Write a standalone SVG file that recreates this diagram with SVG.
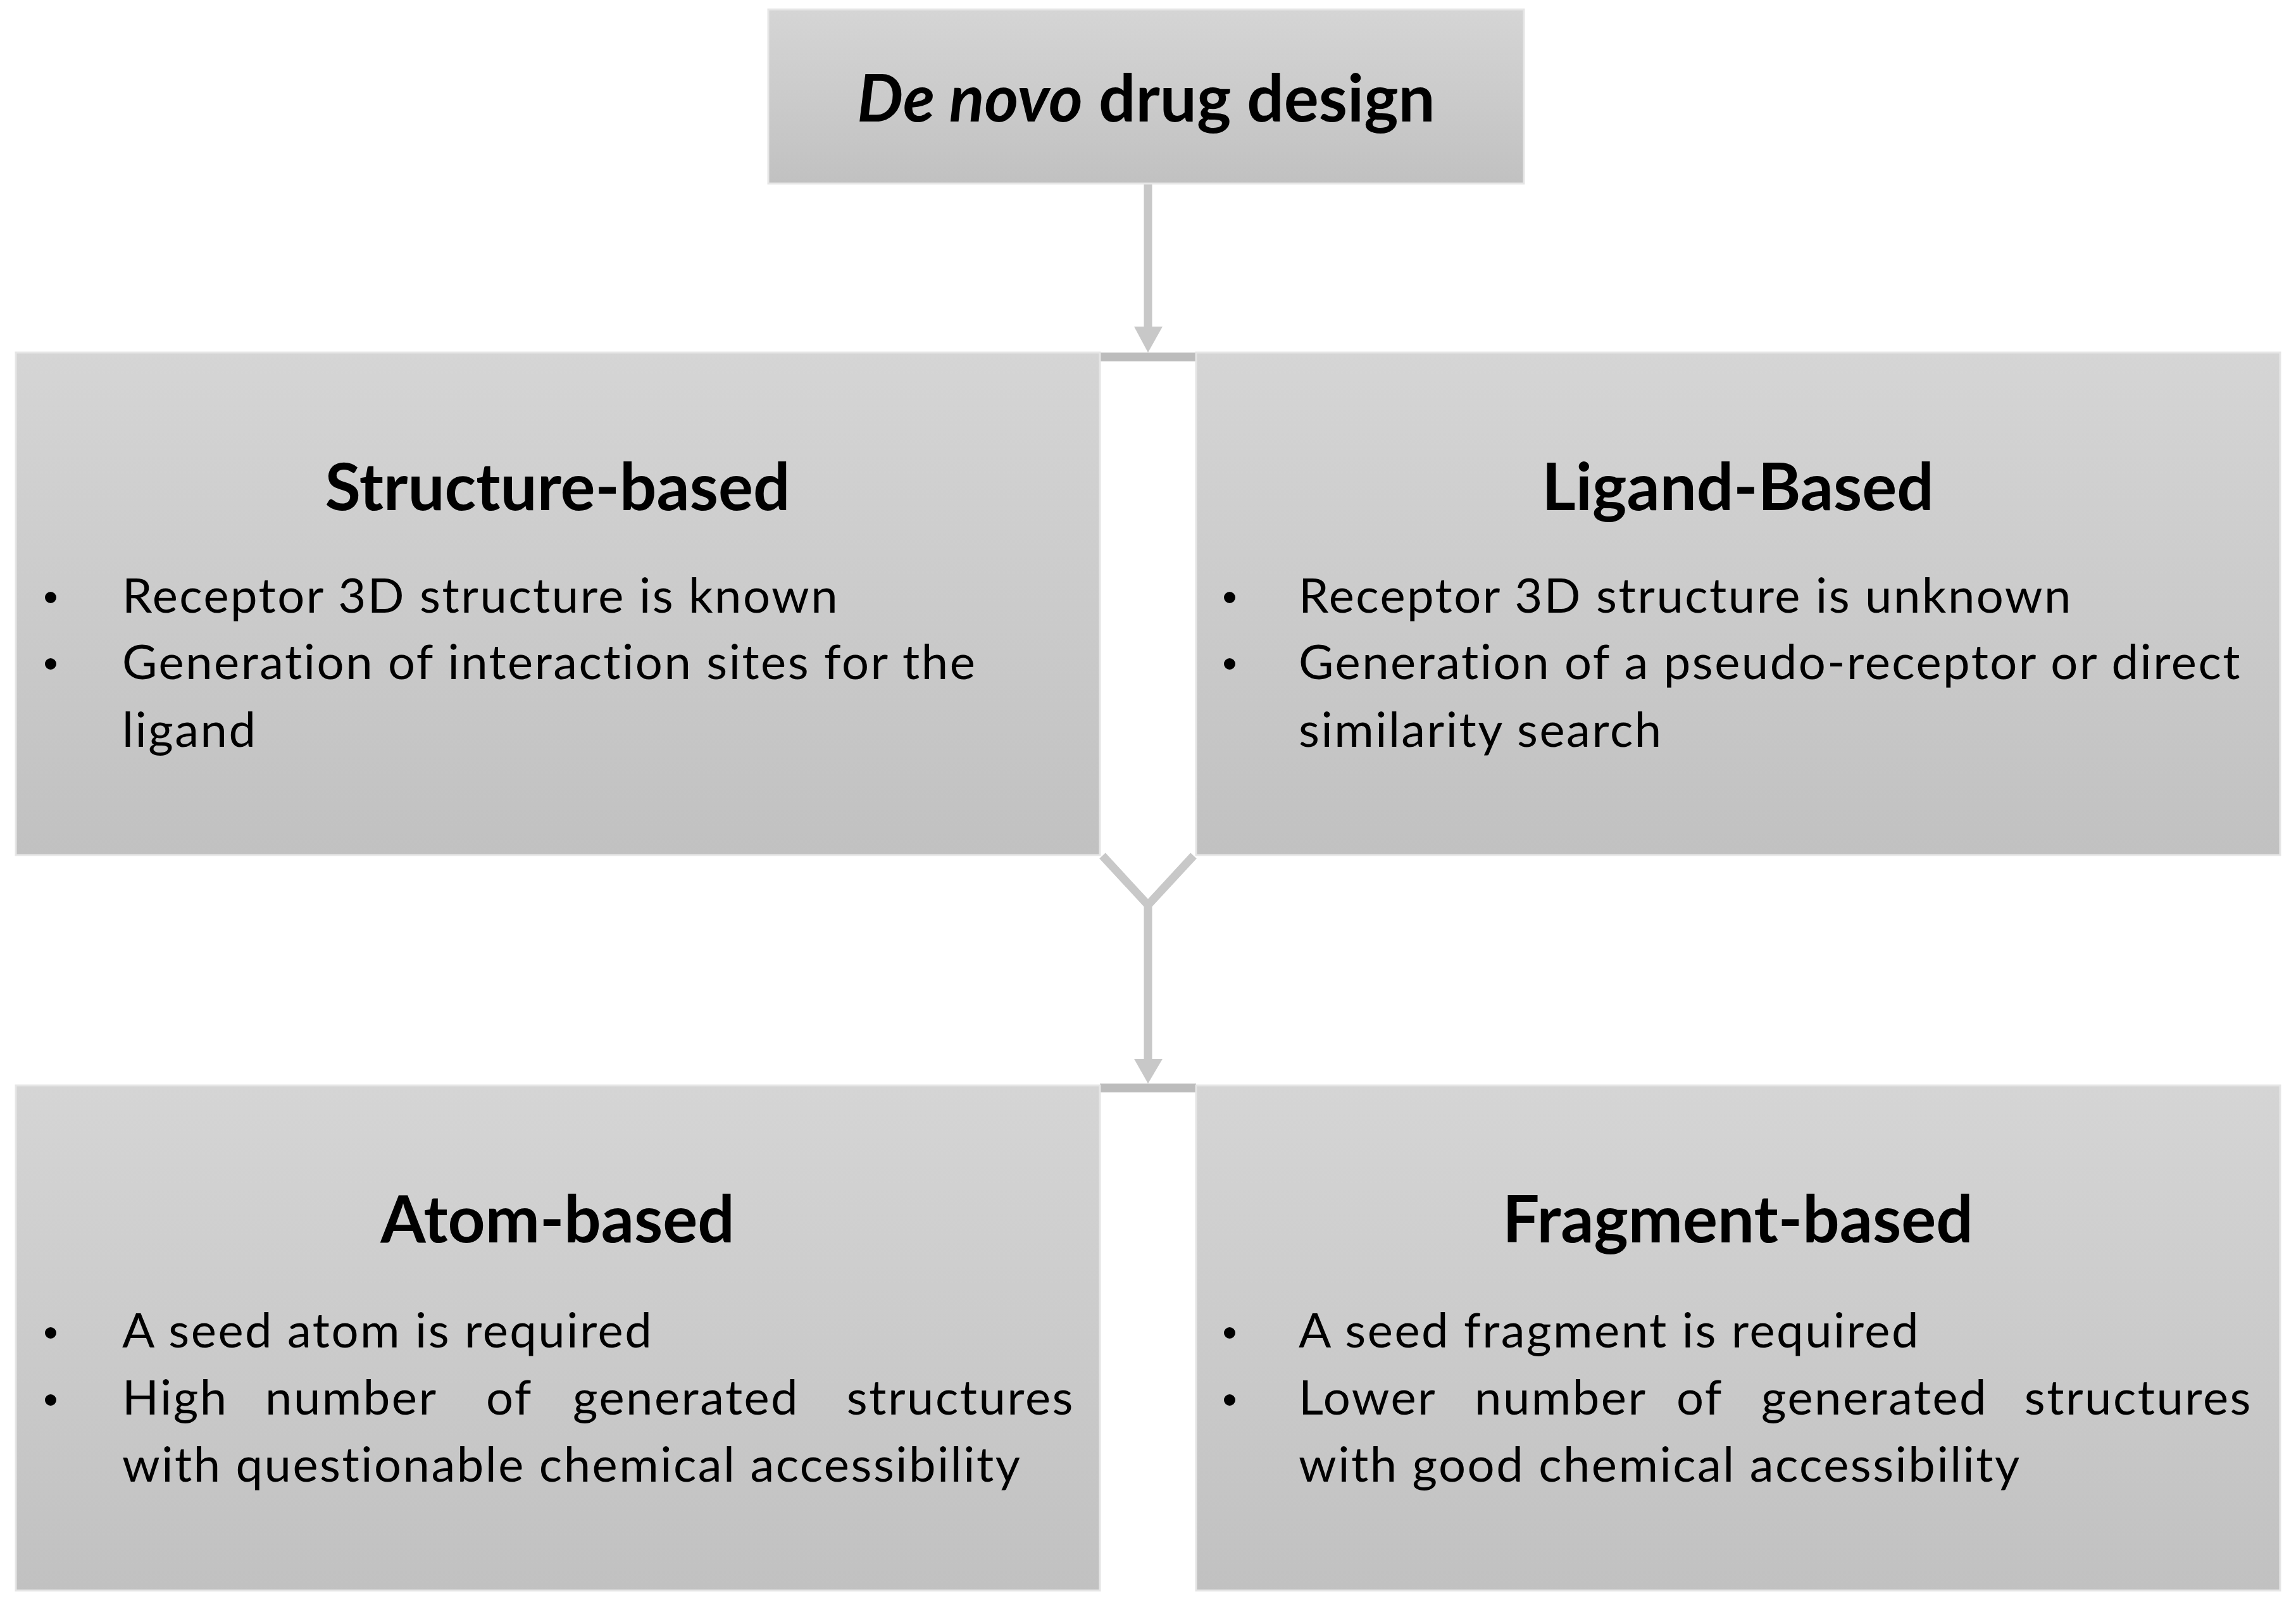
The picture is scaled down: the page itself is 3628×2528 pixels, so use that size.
<svg xmlns="http://www.w3.org/2000/svg" width="3628" height="2528" viewBox="0 0 3628 2528">
<defs>
<linearGradient id="g" x1="0" y1="0" x2="0" y2="1">
<stop offset="0" stop-color="#d5d5d5"/>
<stop offset="1" stop-color="#c1c1c1"/>
</linearGradient>
<style>
.box{fill:url(#g);stroke:#e6e6e6;stroke-width:3}
.title{font-family:Lato,"Liberation Sans",sans-serif;font-weight:bold;font-size:103px;fill:#000;text-anchor:middle}
.body{font-family:Lato,"Liberation Sans",sans-serif;font-size:76px;letter-spacing:2.5px;fill:#000}
.bul{fill:#000}
.con{stroke:#c8c8c8;stroke-width:13;fill:none}
.head{fill:#c8c8c8}
.bar{fill:#bcbcbc}
</style>
</defs>
<rect width="3628" height="2528" fill="#fff"/>
<g id="connectors">
<line class="con" x1="1814" y1="290" x2="1814" y2="520"/>
<polygon class="head" points="1792,516 1837,516 1814,557"/>
<rect class="bar" x="1738" y="557" width="152" height="14"/>
<polyline class="con" points="1742,1352 1814,1430 1886,1352"/>
<line class="con" x1="1814" y1="1430" x2="1814" y2="1676"/>
<polygon class="head" points="1792,1673 1837,1673 1814,1712"/>
<rect class="bar" x="1738" y="1712" width="152" height="14"/>
</g>
<g id="node-top">
<rect class="box" x="1214" y="15" width="1194" height="275"/>
<text class="title" x="1811" y="192" font-size="115"><tspan font-style="italic">De novo</tspan> drug design</text>
</g>
<g id="node-structure">
<rect class="box" x="25" y="557" width="1713" height="794"/>
<text class="title" x="881" y="806">Structure-based</text>
<circle class="bul" cx="80" cy="944" r="9"/>
<circle class="bul" cx="80" cy="1049" r="9"/>
<text class="body" x="193" y="968">Receptor 3D structure is known</text>
<text class="body" x="193" y="1073">Generation of interaction sites for the</text>
<text class="body" x="193" y="1180">ligand</text>
</g>
<g id="node-ligand">
<rect class="box" x="1890" y="557" width="1713" height="794"/>
<text class="title" x="2746" y="806">Ligand-Based</text>
<circle class="bul" cx="1943" cy="944" r="9"/>
<circle class="bul" cx="1943" cy="1049" r="9"/>
<text class="body" x="2052" y="968">Receptor 3D structure is unknown</text>
<text class="body" x="2052" y="1073">Generation of a pseudo-receptor or direct</text>
<text class="body" x="2052" y="1180">similarity search</text>
</g>
<g id="node-atom">
<rect class="box" x="25" y="1715" width="1713" height="798"/>
<text class="title" x="881" y="1963">Atom-based</text>
<circle class="bul" cx="80" cy="2106" r="9"/>
<circle class="bul" cx="80" cy="2212" r="9"/>
<text class="body" x="193" y="2129">A seed atom is required</text>
<text class="body" y="2235"><tspan x="193">High</tspan><tspan x="419">number</tspan><tspan x="768">of</tspan><tspan x="905">generated</tspan><tspan x="1698" text-anchor="end">structures</tspan></text>
<text class="body" x="193" y="2341">with questionable chemical accessibility</text>
</g>
<g id="node-fragment">
<rect class="box" x="1890" y="1715" width="1713" height="798"/>
<text class="title" x="2746" y="1963">Fragment-based</text>
<circle class="bul" cx="1943" cy="2106" r="9"/>
<circle class="bul" cx="1943" cy="2212" r="9"/>
<text class="body" x="2052" y="2129">A seed fragment is required</text>
<text class="body" y="2235"><tspan x="2052">Lower</tspan><tspan x="2330">number</tspan><tspan x="2649">of</tspan><tspan x="2783">generated</tspan><tspan x="3559" text-anchor="end">structures</tspan></text>
<text class="body" x="2052" y="2341">with good chemical accessibility</text>
</g>
</svg>
